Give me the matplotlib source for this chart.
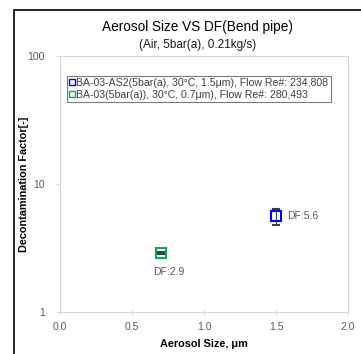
import matplotlib.pyplot as plt
from matplotlib.lines import Line2D
from matplotlib.patches import Rectangle

plt.rcParams['font.family'] = ['Liberation Sans', 'DejaVu Sans']

# data
size_as2 = [1.5]
df_as2 = [5.6]
err_as2 = [0.8]
size_ba03 = [0.7]
df_ba03 = [2.9]
err_ba03 = [0.05]
labels = ['BA-03-AS2(5bar(a), 30°C, 1.5μm), Flow Re#: 234,808',
          'BA-03(5bar(a)), 30°C, 0.7μm), Flow Re#: 280,493']
colors = ['#0000ff', '#00b050']

GRID = '#d9d9d9'
TXT = '#595959'

fig = plt.figure(figsize=(3.61, 3.54), dpi=100)
ax = fig.add_axes([60 / 361, 1 - 312 / 354, 288 / 361, 256 / 354])

# outer chart frame (cropped on right/bottom in the reference)
fig.patches.append(Rectangle((14 / 361, -0.1), 1.2, 1 - 10 / 354 + 0.1,
                             transform=fig.transFigure, fill=False,
                             edgecolor='black', linewidth=1.2))

ax.errorbar(size_as2, df_as2, yerr=err_as2, fmt='s', mfc='none', mec=colors[0],
            mew=1.5, ms=7, ecolor='#404040', elinewidth=0.8, capsize=3,
            capthick=0.8)
ax.errorbar(size_ba03, df_ba03, yerr=err_ba03, fmt='s', mfc='none', mec=colors[1],
            mew=1.5, ms=7, ecolor='#404040', elinewidth=0.8, capsize=3,
            capthick=0.8)

ax.annotate(f'DF:{df_as2[0]}', (size_as2[0], df_as2[0]), xytext=(8, 0),
            textcoords='offset points', ha='left', va='center',
            fontsize=7.5, color=TXT)
ax.annotate(f'DF:{df_ba03[0]}', (size_ba03[0], df_ba03[0]), xytext=(6, -14),
            textcoords='offset points', ha='center', va='center',
            fontsize=7.5, color=TXT)

ax.set_yscale('log')
ax.set_xlim(0, 2.0)
ax.set_ylim(1, 100)
ax.set_xticks([0.0, 0.5, 1.0, 1.5, 2.0])
ax.set_xticklabels(['0.0', '0.5', '1.0', '1.5', '2.0'])
ax.set_yticks([1, 10, 100])
ax.set_yticklabels(['1', '10', '100'])
ax.minorticks_off()
ax.tick_params(axis='both', labelsize=7.5, labelcolor=TXT, color=GRID,
               length=3, width=0.8)
ax.tick_params(axis='x', direction='inout', length=5, pad=5)
ax.tick_params(axis='y', pad=8)
for sp in ax.spines.values():
    sp.set_color(GRID)
    sp.set_linewidth(0.8)

ax.set_xlabel('Aerosol Size, μm', fontsize=7.8, fontweight='bold')
ax.set_ylabel('Decontamination Factor[-]', fontsize=7.8, fontweight='bold')
ax.xaxis.set_label_coords(0.5, -0.105)
ax.yaxis.set_label_coords(-0.108, 0.5)

fig.text(198 / 361, 1 - 27 / 354, 'Aerosol Size VS DF(Bend pipe)',
         ha='center', va='center', fontsize=9.8)
fig.text(198 / 361, 1 - 45 / 354, '(Air, 5bar(a), 0.21kg/s)',
         ha='center', va='center', fontsize=8.5, color='#1a1a1a')

handles = [Line2D([], [], ls='none', marker='s', ms=4, mfc='none', mec=c, mew=1)
           for c in colors]
leg = ax.legend(handles, labels, loc='upper left', bbox_to_anchor=(0.024, 0.922),
                fontsize=7.6, frameon=True, fancybox=False, handlelength=0.5,
                handletextpad=0.2, borderpad=0.2, labelspacing=0.15,
                borderaxespad=0)
leg.get_frame().set_edgecolor('#595959')
leg.get_frame().set_linewidth(0.8)
for t in leg.get_texts():
    t.set_color('#404040')

fig.savefig('out.png', dpi=100)
